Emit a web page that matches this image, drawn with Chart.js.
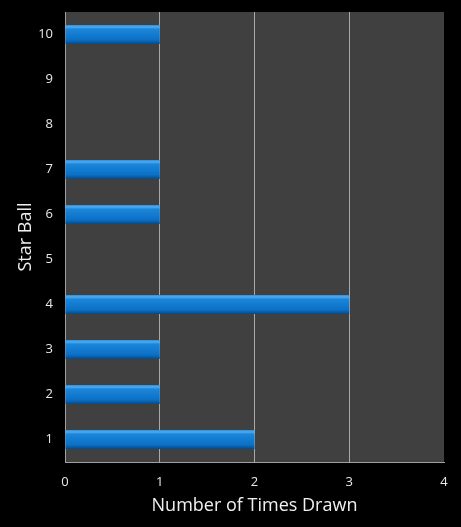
<!DOCTYPE html>
<html><head><meta charset="utf-8">
<script src="https://cdn.jsdelivr.net/npm/chart.js@4/dist/chart.umd.min.js"></script>
<style>html,body{margin:0;padding:0;background:#000;}#w{width:461px;height:527px;}</style>
</head><body><div id="w"><canvas id="c"></canvas></div>
<script>
const categories = ['1','2','3','4','5','6','7','8','9','10'];
const timesDrawn = [2,1,1,3,0,1,1,0,0,1];
const xTicks = [0,1,2,3,4];

const plotBg = {
  id:'plotBg',
  beforeDraw(chart){
    const {ctx, chartArea:a} = chart;
    ctx.save();
    ctx.fillStyle = '#000';
    ctx.fillRect(0,0,chart.width,chart.height);
    ctx.fillStyle = '#404040';
    ctx.fillRect(a.left,a.top,a.right-a.left,a.bottom-a.top);
    ctx.restore();
  }
};

function barFill(context){
  const chart = context.chart;
  const ys = chart.scales && chart.scales.y;
  if(!chart.chartArea || !ys || context.dataIndex === undefined) return '#0f75cc';
  const y = ys.getPixelForValue(context.dataIndex);
  const h = (chart.chartArea.bottom - chart.chartArea.top) / categories.length * 0.42;
  if(!isFinite(y)) return '#0f75cc';
  const g = chart.ctx.createLinearGradient(0, y-h/2, 0, y+h/2);
  g.addColorStop(0,'#2f8fdc');
  g.addColorStop(0.1,'#4fabf0');
  g.addColorStop(0.22,'#1a86da');
  g.addColorStop(0.78,'#0b70c6');
  g.addColorStop(1,'#074a86');
  return g;
}

new Chart(document.getElementById('c'), {
  type:'bar',
  data:{labels:categories, datasets:[{data:timesDrawn, backgroundColor:barFill, borderWidth:0, barPercentage:0.42, categoryPercentage:1}]},
  options:{
    indexAxis:'y', responsive:true, maintainAspectRatio:false, animation:false,
    layout:{padding:{top:12,right:17,left:0,bottom:0}},
    plugins:{legend:{display:false}, tooltip:{enabled:false}},
    scales:{
      x:{type:'linear', min:0, max:4,
        afterBuildTicks(s){ s.ticks = xTicks.map(v=>({value:v})); },
        grid:{color:(c)=> (c.tick && (c.tick.value===4||c.tick.value===0)) ? 'rgba(0,0,0,0)' : '#a8a8a8', lineWidth:1, drawTicks:false},
        border:{color:'#a0a0a0', width:1},
        ticks:{color:'#e8e8e8', font:{family:'Open Sans', size:13}, padding:12},
        title:{display:true, text:'Number of Times Drawn', color:'#f0f0f0', font:{family:'Open Sans', size:18}, padding:{top:0,bottom:10}},
        afterFit(s){ s.height = 65; }
      },
      y:{reverse:true,
        grid:{display:false, drawTicks:false},
        border:{color:'#a0a0a0', width:1},
        ticks:{color:'#e8e8e8', font:{family:'Open Sans', size:13}, padding:12},
        title:{display:true, text:'Star Ball', color:'#f0f0f0', font:{family:'Open Sans', size:18}, padding:{top:15,bottom:0}},
        afterFit(s){ s.width = 65; s.paddingTop = 0; s.paddingBottom = 0; }
      }
    }
  },
  plugins:[plotBg]
});
</script></body></html>
